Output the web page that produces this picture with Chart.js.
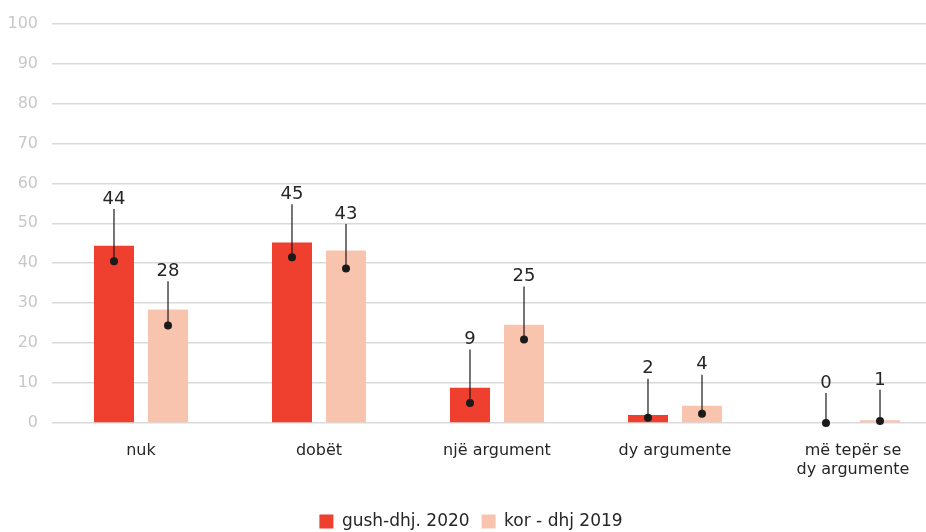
<!DOCTYPE html>
<html>
<head>
<meta charset="utf-8">
<script src="https://cdn.jsdelivr.net/npm/chart.js@4"></script>
<style>
  body { margin: 0; overflow: hidden; background: #fff; }
  #wrap { width: 950px; height: 532px; }
</style>
</head>
<body>
<div id="wrap"><canvas id="myChart"></canvas></div>
<script>
const categories = ["nuk", "dobët", "një argument", "dy argumente", ["më tepër se", "dy argumente"]];
const seriesNames = ["gush-dhj. 2020", "kor - dhj 2019"];
const values2020 = [44.4, 45.2, 8.8, 2.0, 0];
const values2019 = [28.4, 43.2, 24.6, 4.3, 0.7];
// where the leader dot sits and where the label line ends (chart units)
const dot2020 = [40.5, 41.5, 5.0, 1.3, 0];
const dot2019 = [24.4, 38.7, 20.9, 2.3, 0.5];
const labelAt2020 = [53.6, 54.8, 18.4, 11.1, 7.5];
const labelAt2019 = [35.5, 49.8, 34.2, 12.1, 8.3];
const yTicks = [0, 10, 20, 30, 40, 50, 60, 70, 80, 90, 100];

const font = "'DejaVu Sans', sans-serif";
const dots = [dot2020, dot2019];
const tops = [labelAt2020, labelAt2019];

const leaderLabels = {
  id: "leaderLabels",
  afterDatasetsDraw(chart) {
    const c = chart.ctx;
    const y = chart.scales.y;
    c.save();
    chart.data.datasets.forEach((ds, i) => {
      const meta = chart.getDatasetMeta(i);
      meta.data.forEach((bar, j) => {
        const x = bar.x;
        const yd = y.getPixelForValue(dots[i][j]);
        const yt = y.getPixelForValue(tops[i][j]);
        c.strokeStyle = "#1a1a1a";
        c.lineWidth = 1.2;
        c.beginPath();
        c.moveTo(x, yd);
        c.lineTo(x, yt);
        c.stroke();
        c.fillStyle = "#1a1a1a";
        c.beginPath();
        c.arc(x, yd, 4, 0, Math.PI * 2);
        c.fill();
        c.font = "18px " + font;
        c.textAlign = "center";
        c.textBaseline = "bottom";
        c.fillStyle = "#262626";
        c.fillText(String(Math.round(ds.data[j])), x, yt - 1);
      });
    });
    c.restore();
  }
};

const ctx = document.getElementById("myChart");
new Chart(ctx, {
  type: "bar",
  data: {
    labels: categories,
    datasets: [
      {
        label: seriesNames[0],
        data: values2020,
        backgroundColor: "#ee3f2f",
        categoryPercentage: 0.607,
        barPercentage: 0.741,
      },
      {
        label: seriesNames[1],
        data: values2019,
        backgroundColor: "#f9c4ae",
        categoryPercentage: 0.607,
        barPercentage: 0.741,
      },
    ],
  },
  options: {
    responsive: true,
    maintainAspectRatio: false,
    animation: false,
    layout: { padding: { top: 14, right: 8, left: 0, bottom: -8 } },
    plugins: {
      tooltip: { enabled: false },
      legend: {
        position: "bottom",
        labels: {
          boxWidth: 14,
          boxHeight: 14,
          padding: 12,
          color: "#262626",
          font: { family: font, size: 17 },
        },
      },
    },
    scales: {
      x: {
        afterFit(scale) { scale.height = 78; },
        grid: { display: false },
        border: { display: false },
        ticks: {
          color: "#262626",
          font: { family: font, size: 16 },
          padding: 10,
          maxRotation: 0,
          autoSkip: false,
        },
      },
      y: {
        min: 0,
        max: 100,
        afterFit(scale) { scale.width = 52; },
        afterBuildTicks(scale) { scale.ticks = yTicks.map(v => ({ value: v })); },
        grid: { color: "#d9d9d9", lineWidth: 1.5, drawTicks: false },
        border: { display: false },
        ticks: {
          color: "#c8c8c8",
          font: { family: font, size: 16 },
          padding: 14,
        },
      },
    },
  },
  plugins: [leaderLabels],
});
</script>
</body>
</html>
